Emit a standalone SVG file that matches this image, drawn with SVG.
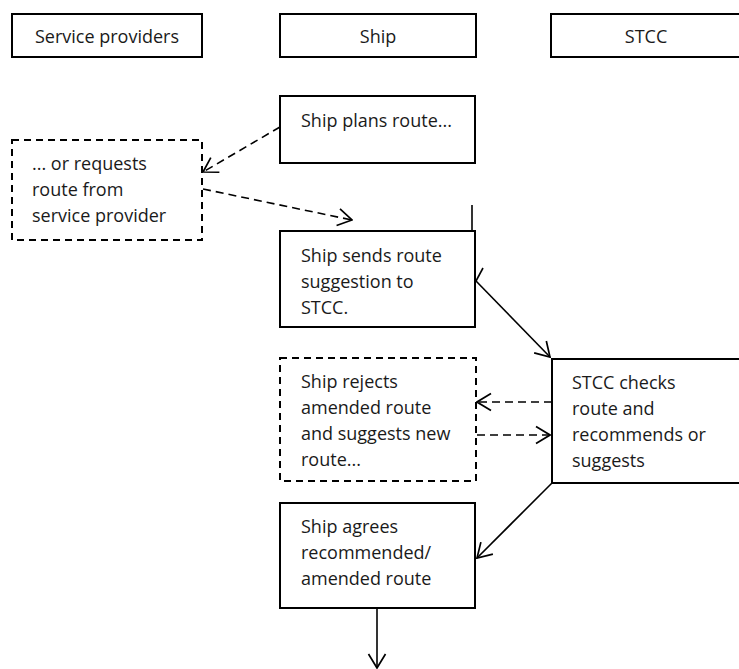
<svg xmlns="http://www.w3.org/2000/svg" width="739" height="669" viewBox="0 0 739 669">
<defs>
<style>
.box{fill:#fff;stroke:#000;stroke-width:2}
.dbox{fill:#fff;stroke:#000;stroke-width:2;stroke-dasharray:7 5}
.t{font-family:"Open Sans","DejaVu Sans",sans-serif;font-size:18px;fill:#1a1a1a}
.tc{text-anchor:middle}
.ln{fill:none;stroke:#000;stroke-width:1.6}
.dl{fill:none;stroke:#000;stroke-width:1.6;stroke-dasharray:8 5}
</style>
<marker id="ah" viewBox="0 0 16 20" refX="15" refY="10" markerWidth="16" markerHeight="20" markerUnits="userSpaceOnUse" orient="auto">
<path d="M1,1.5 L15,10 L1,18.5" fill="none" stroke="#000" stroke-width="1.7"/>
</marker>
</defs>
<rect width="739" height="669" fill="#fff"/>
<g id="hdr-service">
<rect class="box" x="12" y="14" width="190" height="43"/>
<text class="t tc" x="107" y="43">Service providers</text>
</g>
<g id="hdr-ship">
<rect class="box" x="280" y="14" width="196" height="43"/>
<text class="t tc" x="378" y="43">Ship</text>
</g>
<g id="hdr-stcc">
<rect class="box" x="551" y="14" width="200" height="43"/>
<text class="t tc" x="646" y="43">STCC</text>
</g>
<g id="n-plan">
<rect class="box" x="280" y="96" width="195" height="67"/>
<text class="t" x="301" y="127">Ship plans route...</text>
</g>
<g id="n-request">
<rect class="dbox" x="12" y="140" width="190" height="100"/>
<text class="t" x="32" y="170">... or requests</text>
<text class="t" x="32" y="196">route from</text>
<text class="t" x="32" y="222">service provider</text>
</g>
<g id="n-send">
<rect class="box" x="280" y="231" width="195" height="96"/>
<text class="t" x="301" y="262">Ship sends route</text>
<text class="t" x="301" y="288">suggestion to</text>
<text class="t" x="301" y="314">STCC.</text>
</g>
<g id="n-reject">
<rect class="dbox" x="280" y="358" width="196" height="123"/>
<text class="t" x="301" y="388">Ship rejects</text>
<text class="t" x="301" y="414">amended route</text>
<text class="t" x="301" y="440">and suggests new</text>
<text class="t" x="301" y="466">route...</text>
</g>
<g id="n-check">
<rect class="box" x="552" y="359" width="200" height="124"/>
<text class="t" x="572" y="389">STCC checks</text>
<text class="t" x="572" y="415">route and</text>
<text class="t" x="572" y="441">recommends or</text>
<text class="t" x="572" y="467">suggests</text>
</g>
<g id="n-agree">
<rect class="box" x="280" y="503" width="195" height="105"/>
<text class="t" x="301" y="533">Ship agrees</text>
<text class="t" x="301" y="559">recommended/</text>
<text class="t" x="301" y="585">amended route</text>
</g>
<g id="connectors">
<path class="dl" d="M280,127 L203,172" marker-end="url(#ah)"/>
<path class="dl" d="M203,189 L352,220" marker-end="url(#ah)"/>
<path class="ln" d="M472,205 L472,231"/>
<path class="ln" d="M476,281 L483,268"/>
<path class="ln" d="M476,281 L550,357" marker-end="url(#ah)"/>
<path class="dl" d="M552,402 L477,402" marker-end="url(#ah)"/>
<path class="dl" d="M477,435 L550,435" marker-end="url(#ah)"/>
<path class="ln" d="M552,483 L477,558" marker-end="url(#ah)"/>
<path class="ln" d="M377,608 L377,668" marker-end="url(#ah)"/>
</g>
</svg>
